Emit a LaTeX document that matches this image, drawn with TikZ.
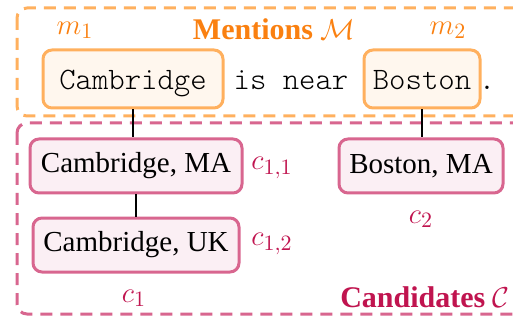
\documentclass[tikz,border=0pt]{standalone}
\usepackage{fontspec}
\setmainfont{Liberation Serif}
\usetikzlibrary{positioning}

\definecolor{menline}{HTML}{FFB05E}
\definecolor{menfill}{HTML}{FFF7EE}
\definecolor{mentext}{HTML}{FA8010}
\definecolor{canline}{HTML}{D8668F}
\definecolor{canfill}{HTML}{FBEFF4}
\definecolor{cantext}{HTML}{C0144F}

\newcommand{\thinmono}{\ttfamily\fontseries{l}\selectfont}

\tikzset{
  groupbox/.style={line width=1.5pt, dash pattern=on 6pt off 4pt, rounded corners=5pt},
  mention/.style={draw=menline, fill=menfill, line width=1.5pt, rounded corners=4.5pt,
    font=\fontsize{15.6}{18}\thinmono, text height=14pt, text depth=3pt,
    inner ysep=6pt, anchor=base},
  plainword/.style={font=\fontsize{15.6}{18}\thinmono, inner sep=0pt, anchor=base},
  cand/.style={draw=canline, fill=canfill, line width=1.5pt, rounded corners=4.5pt,
    font=\fontsize{14.5}{17}\selectfont, minimum height=27pt, inner xsep=3pt},
  mlabel/.style={text=mentext, font=\fontsize{15.5}{18}\selectfont},
  clabel/.style={text=cantext, font=\fontsize{15.5}{18}\selectfont},
  link/.style={line width=0.7pt, black},
}

\begin{document}
\begin{tikzpicture}[x=0.5pt, y=-0.5pt]
\useasboundingbox (0,0) rectangle (513,320);
\clip (0,0) rectangle (513,320);

% group outlines (open to the right)
\draw[groupbox, draw=menline] (17,8) rectangle (540,116);
\draw[groupbox, draw=canline] (17,123) rectangle (540,314);

% sentence with mentions
\node[mention, minimum width=90pt] (m1box) at (133,90) {Cambridge};
\node[plainword] (isnear) at (291,90) {is near};
\node[mention, minimum width=58pt, inner xsep=2pt] (m2box) at (422,90) {Boston};
\node[plainword] (dot) at (487,90) {.};

\node[mlabel] (m1) at (75,30) {$m_1$};
\node[mlabel] (m2) at (448,30) {$m_2$};
\node[text=mentext, font=\fontsize{15}{17}\bfseries] (mentions) at (274,29) {Mentions $\mathcal{M}$};

% candidate entities
\node[cand, minimum width=106pt] (cma) at (136,166) {Cambridge, MA};
\node[cand, minimum width=103pt] (cuk) at (136,245) {Cambridge, UK};
\node[cand, minimum width=82pt] (bma) at (421,166) {Boston, MA};

\node[clabel] (c11) at (272,168) {$c_{1,1}$};
\node[clabel] (c12) at (272,244) {$c_{1,2}$};
\node[clabel] (c2) at (421,219) {$c_2$};
\node[clabel] (c1) at (134,298) {$c_1$};
\node[text=cantext, font=\fontsize{15}{17}\bfseries] (cands) at (425,297) {Candidates $\mathcal{C}$};

% links
\draw[link] (m1box.south) -- (m1box.south |- cma.north);
\draw[link] (m2box.south) -- (m2box.south |- bma.north);
\draw[link] (cma.south) -- (cuk.north);
\end{tikzpicture}
\end{document}
